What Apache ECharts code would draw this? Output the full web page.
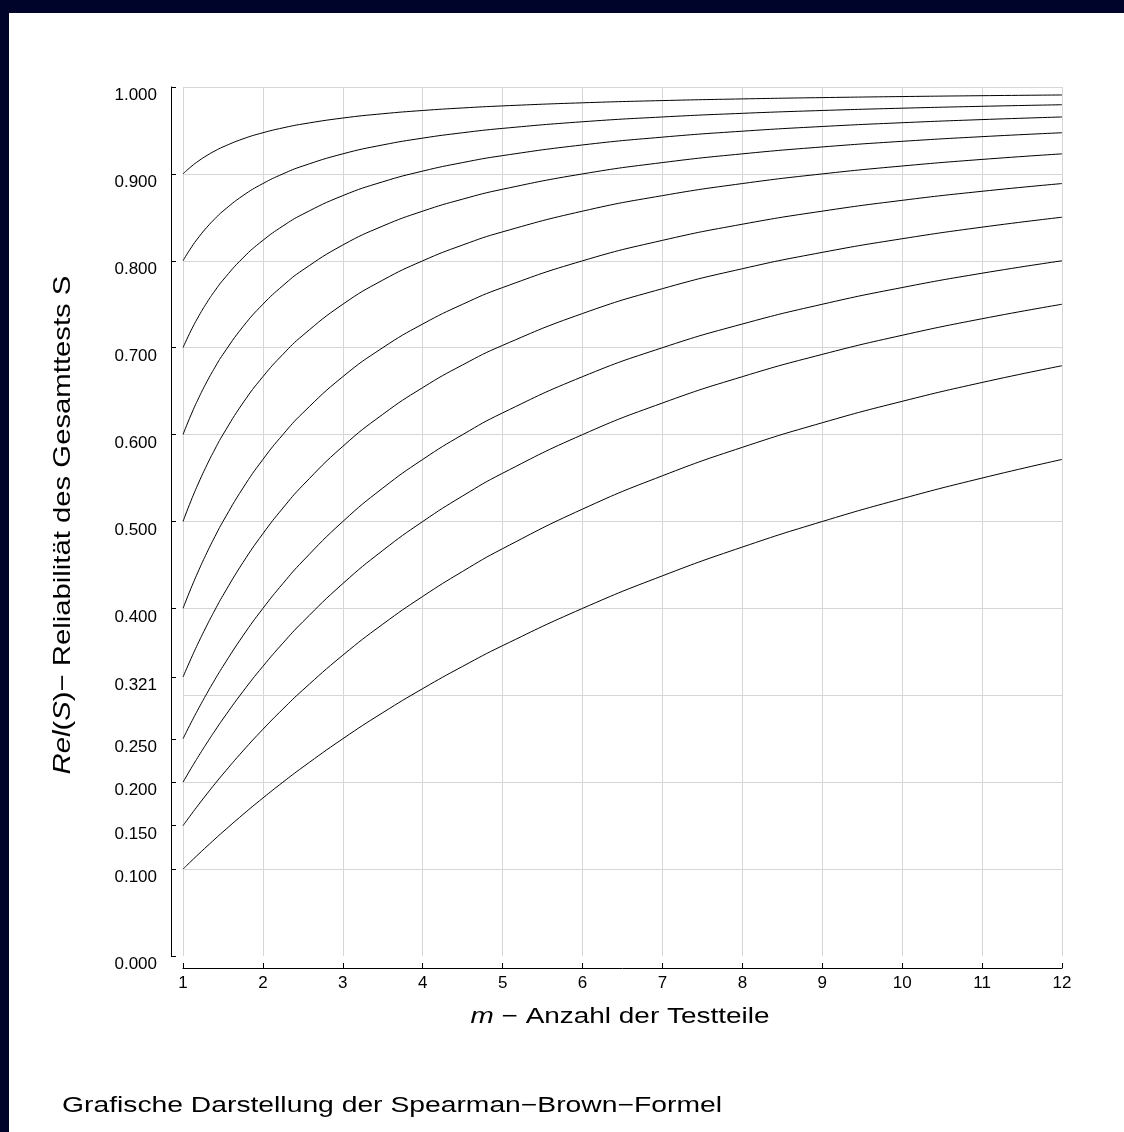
<!DOCTYPE html>
<html>
<head>
<meta charset="utf-8">
<script src="https://cdn.jsdelivr.net/npm/echarts@6/dist/echarts.min.js"></script>
<style>
html,body{margin:0;padding:0;background:#fff;}
#chart{width:1124px;height:1132px;}
</style>
</head>
<body>
<div id="chart"></div>
<script>
// m values (Anzahl der Testteile)
const mValues = [1, 1.1, 1.2, 1.3, 1.4, 1.5, 1.75, 2, 2.25, 2.5, 3, 3.5, 4, 4.5, 5, 6, 7, 8, 9, 10, 11, 12];
// Reliability of whole test, one curve per single-part reliability
const rel090 = [0.9, 0.90826, 0.91525, 0.92126, 0.92647, 0.93103, 0.9403, 0.94737, 0.95294, 0.95745, 0.96429, 0.96923, 0.97297, 0.9759, 0.97826, 0.98182, 0.98438, 0.9863, 0.9878, 0.98901, 0.99, 0.99083];
const rel080 = [0.8, 0.81481, 0.82759, 0.83871, 0.84848, 0.85714, 0.875, 0.88889, 0.9, 0.90909, 0.92308, 0.93333, 0.94118, 0.94737, 0.95238, 0.96, 0.96552, 0.9697, 0.97297, 0.97561, 0.97778, 0.97959];
const rel070 = [0.7, 0.71963, 0.73684, 0.75207, 0.76563, 0.77778, 0.80328, 0.82353, 0.84, 0.85366, 0.875, 0.89091, 0.90323, 0.91304, 0.92105, 0.93333, 0.94231, 0.94915, 0.95455, 0.9589, 0.9625, 0.96552];
const rel060 = [0.6, 0.62264, 0.64286, 0.66102, 0.67742, 0.69231, 0.72414, 0.75, 0.77143, 0.78947, 0.81818, 0.84, 0.85714, 0.87097, 0.88235, 0.9, 0.91304, 0.92308, 0.93103, 0.9375, 0.94286, 0.94737];
const rel050 = [0.5, 0.52381, 0.54545, 0.56522, 0.58333, 0.6, 0.63636, 0.66667, 0.69231, 0.71429, 0.75, 0.77778, 0.8, 0.81818, 0.83333, 0.85714, 0.875, 0.88889, 0.9, 0.90909, 0.91667, 0.92308];
const rel040 = [0.4, 0.42308, 0.44444, 0.46429, 0.48276, 0.5, 0.53846, 0.57143, 0.6, 0.625, 0.66667, 0.7, 0.72727, 0.75, 0.76923, 0.8, 0.82353, 0.84211, 0.85714, 0.86957, 0.88, 0.88889];
const rel0321 = [0.321, 0.34212, 0.36196, 0.38064, 0.39826, 0.41491, 0.45275, 0.486, 0.51543, 0.54168, 0.58648, 0.6233, 0.6541, 0.68025, 0.70271, 0.73935, 0.76794, 0.79088, 0.8097, 0.8254, 0.83872, 0.85014];
const rel025 = [0.25, 0.26829, 0.28571, 0.30233, 0.31818, 0.33333, 0.36842, 0.4, 0.42857, 0.45455, 0.5, 0.53846, 0.57143, 0.6, 0.625, 0.66667, 0.7, 0.72727, 0.75, 0.76923, 0.78571, 0.8];
const rel020 = [0.2, 0.21569, 0.23077, 0.24528, 0.25926, 0.27273, 0.30435, 0.33333, 0.36, 0.38462, 0.42857, 0.46667, 0.5, 0.52941, 0.55556, 0.6, 0.63636, 0.66667, 0.69231, 0.71429, 0.73333, 0.75];
const rel015 = [0.15, 0.16256, 0.17476, 0.1866, 0.19811, 0.2093, 0.23596, 0.26087, 0.28421, 0.30612, 0.34615, 0.38182, 0.41379, 0.44262, 0.46875, 0.51429, 0.55263, 0.58537, 0.61364, 0.6383, 0.66, 0.67925];
const rel010 = [0.1, 0.10891, 0.11765, 0.12621, 0.13462, 0.14286, 0.16279, 0.18182, 0.2, 0.21739, 0.25, 0.28, 0.30769, 0.33333, 0.35714, 0.4, 0.4375, 0.47059, 0.5, 0.52632, 0.55, 0.57143];
const curves = [rel090, rel080, rel070, rel060, rel050, rel040, rel0321, rel025, rel020, rel015, rel010];
// y axis tick labels
const yTickValues = [0, 0.1, 0.15, 0.2, 0.25, 0.321, 0.4, 0.5, 0.6, 0.7, 0.8, 0.9, 1.0];

const xTitle = '{i|m} − Anzahl der Testteile';
const yTitle = '{i|Rel}({i|S})− Reliabilität des Gesamttests S';
const caption = 'Grafische Darstellung der Spearman−Brown−Formel';

const FONT = '"Liberation Sans", Arial, Helvetica, sans-serif';
const DARK = '#01042a';
const GRID = '#d6d6d6';

const chart = echarts.init(document.getElementById('chart'), null, {renderer: 'canvas'});

const series = curves.map(vals => ({
  type: 'line',
  xAxisIndex: 0,
  yAxisIndex: 0,
  showSymbol: false,
  smooth: true,
  silent: true,
  lineStyle: {color: '#000', width: 1},
  data: mValues.map((m, i) => [m, vals[i]])
}));

function rich(size) {
  return {i: {fontStyle: 'italic', fontSize: size, fontFamily: FONT, fill: '#000', color: '#000'}};
}

chart.setOption({
  animation: false,
  backgroundColor: '#fff',
  grid: {left: 183, right: 62, top: 87, bottom: 176, containLabel: false},
  xAxis: {
    type: 'value', min: 1, max: 12, interval: 1, offset: 12,
    axisLine: {show: true, onZero: false, lineStyle: {color: '#000', width: 1}},
    axisTick: {show: true, inside: true, length: 5, lineStyle: {color: '#000', width: 1}},
    axisLabel: {show: true, margin: 7, fontSize: 17, color: '#000', fontFamily: FONT},
    splitLine: {show: true, lineStyle: {color: GRID, width: 1}}
  },
  yAxis: [
    {
      type: 'value', min: 0, max: 1, interval: 0.1,
      axisLine: {show: false}, axisTick: {show: false}, axisLabel: {show: false},
      splitLine: {show: true, showMinLine: false, lineStyle: {color: GRID, width: 1}}
    },
    {
      type: 'value', min: 0, max: 1, position: 'left', offset: 12,
      axisLine: {show: true, onZero: false, lineStyle: {color: '#000', width: 1}},
      axisTick: {show: true, inside: true, length: 5, customValues: yTickValues, lineStyle: {color: '#000', width: 1}},
      axisLabel: {show: true, customValues: yTickValues, margin: 14, fontSize: 17, color: '#000', fontFamily: FONT,
        verticalAlign: 'top', padding: [0, 0, 0, 0],
        formatter: v => Number(v).toFixed(3)},
      splitLine: {show: false}
    }
  ],
  series: series,
  graphic: [
    {type: 'rect', left: 0, top: 0, z: 100, shape: {width: 1124, height: 13}, style: {fill: DARK}},
    {type: 'rect', left: 0, top: 0, z: 100, shape: {width: 9, height: 1132}, style: {fill: DARK}},
    {type: 'text', x: 620, y: 1017, scaleX: 1.27, z: 100,
      style: {text: xTitle, rich: rich(22), fontSize: 22, fontFamily: FONT, fill: '#000', textAlign: 'center', textVerticalAlign: 'middle'}},
    {type: 'text', x: 63, y: 525, rotation: Math.PI / 2, scaleX: 1.22, z: 100,
      style: {text: yTitle, rich: rich(24), fontSize: 24, fontFamily: FONT, fill: '#000', textAlign: 'center', textVerticalAlign: 'middle'}},
    {type: 'text', x: 62, y: 1106, scaleX: 1.285, z: 100,
      style: {text: caption, fontSize: 22, fontFamily: FONT, fill: '#000', textAlign: 'left', textVerticalAlign: 'middle'}}
  ]
});
</script>
</body>
</html>
